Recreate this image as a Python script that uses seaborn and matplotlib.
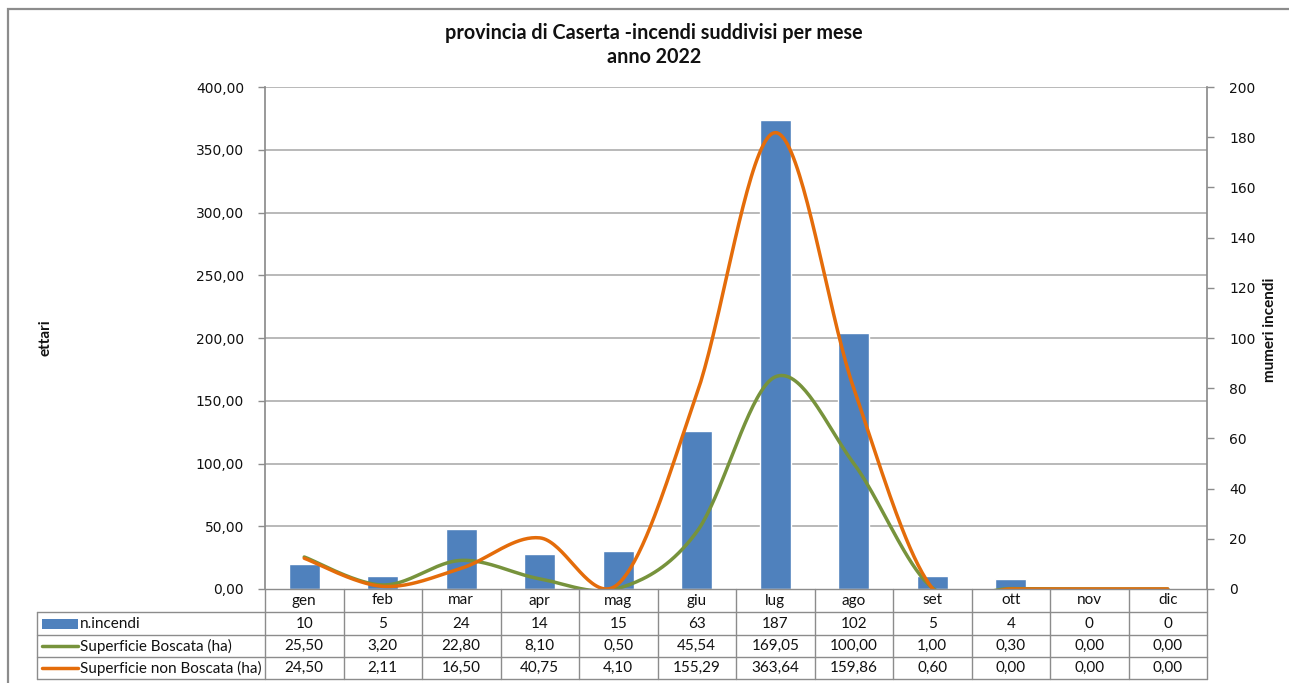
import numpy as np
import pandas as pd
import matplotlib
matplotlib.use("Agg")
import matplotlib.pyplot as plt
from matplotlib.patches import Rectangle
from matplotlib.ticker import FuncFormatter, MultipleLocator
import seaborn as sns

# --- data -------------------------------------------------------------
mesi = ["gen", "feb", "mar", "apr", "mag", "giu", "lug", "ago", "set", "ott", "nov", "dic"]
n_incendi = [10, 5, 24, 14, 15, 63, 187, 102, 5, 4, 0, 0]
sup_boscata = [25.50, 3.20, 22.80, 8.10, 0.50, 45.54, 169.05, 100.00, 1.00, 0.30, 0.00, 0.00]
sup_non_boscata = [24.50, 2.11, 16.50, 40.75, 4.10, 155.29, 363.64, 159.86, 0.60, 0.00, 0.00, 0.00]

titolo = "provincia di Caserta -incendi suddivisi per mese\nanno 2022"
etichetta_sx = "ettari"
etichetta_dx = "mumeri incendi"
nomi_serie = ["n.incendi", "Superficie Boscata (ha)", "Superficie non Boscata (ha)"]

BLU = "#4F81BD"
VERDE = "#77933C"
ARANCIO = "#E46C0A"
GRIGIO = "#8C8C8C"


def smooth(values, n=40):
    """Catmull-Rom style Bezier smoothing through category points."""
    p = np.column_stack([np.arange(len(values), dtype=float), np.asarray(values, float)])
    xs, ys = [], []
    for i in range(len(p) - 1):
        p0 = p[i - 1] if i > 0 else p[i]
        p1, p2 = p[i], p[i + 1]
        p3 = p[i + 2] if i + 2 < len(p) else p[i + 1]
        c1 = p1 + (p2 - p0) / 6.0
        c2 = p2 - (p3 - p1) / 6.0
        t = np.linspace(0, 1, n)[:, None]
        b = ((1 - t) ** 3) * p1 + 3 * ((1 - t) ** 2) * t * c1 + 3 * (1 - t) * t ** 2 * c2 + t ** 3 * p2
        xs.append(b[:, 0]); ys.append(b[:, 1])
    return np.concatenate(xs), np.concatenate(ys)


sns.set_theme(style="white")
plt.rcParams["font.family"] = ["DejaVu Sans"]

W, H = 1289, 683
fig = plt.figure(figsize=(W / 100, H / 100), dpi=100)

L, R, T, B = 265, 1207, 87, 589
ax2 = fig.add_axes([L / W, 1 - B / H, (R - L) / W, (B - T) / H])   # bars (right scale)
ax = ax2.twinx()                                                     # lines (left scale)
ax.yaxis.tick_left()
ax.yaxis.set_label_position("left")
ax2.yaxis.tick_right()
ax2.yaxis.set_label_position("right")
ax.set_zorder(ax2.get_zorder() + 1)
ax.patch.set_visible(False)

# bars
df = pd.DataFrame({"mese": mesi, "n": n_incendi})
sns.barplot(data=df, x="mese", y="n", ax=ax2, color=BLU, width=0.4,
            saturation=1, zorder=3)
ax2.set_ylim(0, 200)
ax2.set_xlim(-0.5, len(mesi) - 0.5)
ax2.yaxis.set_major_locator(MultipleLocator(20))

# gridlines of the left scale, drawn behind the bars
sx_ticks = np.arange(0, 401, 50)
for v in sx_ticks[1:]:
    ax2.axhline(v / 2, color="#A6A6A6", lw=1.1, zorder=1)

# smoothed lines
for vals, col in [(sup_boscata, VERDE), (sup_non_boscata, ARANCIO)]:
    xs, ys = smooth(vals)
    sns.lineplot(x=xs, y=ys, ax=ax, color=col, linewidth=2.5, sort=False,
                 estimator=None, zorder=4)
ax.set_ylim(0, 400)
ax.set_xlim(-0.5, len(mesi) - 0.5)
ax.set_yticks(sx_ticks)
ax.yaxis.set_major_formatter(FuncFormatter(lambda v, _: f"{v:.2f}".replace(".", ",")))

for a in (ax, ax2):
    a.set_xticks([])
    a.set_xlabel("")
    a.set_ylabel("")
    a.grid(False)
    for s in a.spines.values():
        s.set_visible(False)
    a.tick_params(axis="y", labelsize=10, length=5, width=1, direction="out",
                  color=GRIGIO, labelcolor="#111111")

ax.spines["left"].set_visible(True)
ax.spines["left"].set_color(GRIGIO)
ax2.spines["right"].set_visible(True)
ax2.spines["right"].set_color(GRIGIO)
ax.tick_params(axis="y", pad=10)
ax2.tick_params(axis="y", pad=11)

fig.text(45 / W, 1 - 338 / H, etichetta_sx, rotation=90, ha="center", va="center",
         fontsize=11, fontweight="bold", family="Lato", color="#111111")
fig.text(1270 / W, 1 - 330 / H, etichetta_dx, rotation=90, ha="center", va="center",
         fontsize=11, fontweight="bold", family="Lato", color="#111111")
fig.text(654 / W, 1 - 45 / H, titolo, ha="center", va="center",
         fontsize=14.2, fontweight="bold", family="Lato", color="#111111",
         linespacing=1.25)

# --- data table under the plot (pixel overlay) -------------------------
ov = fig.add_axes([0, 0, 1, 1], zorder=10)
ov.set_xlim(0, W); ov.set_ylim(H, 0); ov.axis("off")
ov.patch.set_visible(False)

# outer chart frame
ov.plot([8, 8, W], [H, 9, 9], color="#8C8C8C", lw=1.6, solid_joinstyle="miter")

n = len(mesi)
cw = (R - L) / n
rows = [589, 612, 635, 657, 679]
TL = 37
lc = "#8C8C8C"
ov.plot([L, R], [rows[0], rows[0]], color=lc, lw=1)
for y in rows[1:]:
    ov.plot([TL, R], [y, y], color=lc, lw=1)
ov.plot([TL, TL], [rows[1], rows[-1]], color=lc, lw=1)
for i in range(n + 1):
    x = L + i * cw
    ov.plot([x, x], [rows[0], rows[-1]], color=lc, lw=1)

tk = dict(ha="center", va="center", fontsize=11, family="Lato", color="#111111")
valori = [
    [str(v) for v in n_incendi],
    [f"{v:.2f}".replace(".", ",") for v in sup_boscata],
    [f"{v:.2f}".replace(".", ",") for v in sup_non_boscata],
]
for i, m in enumerate(mesi):
    xc = L + (i + 0.5) * cw
    ov.text(xc, (rows[0] + rows[1]) / 2, m, **tk)
    for r in range(3):
        ov.text(xc, (rows[r + 1] + rows[r + 2]) / 2, valori[r][i], **tk)

# legend keys inside the label column
yc = [(rows[r + 1] + rows[r + 2]) / 2 for r in range(3)]
ov.add_patch(Rectangle((42, yc[0] - 5), 36, 10, color=BLU, lw=0))
ov.plot([42, 78], [yc[1], yc[1]], color=VERDE, lw=2.5)
ov.plot([42, 78], [yc[2], yc[2]], color=ARANCIO, lw=2.5)
for r in range(3):
    ov.text(80, yc[r], nomi_serie[r], ha="left", va="center", fontsize=11,
            family="Lato", color="#111111")

fig.savefig("out.png", dpi=100, facecolor="white")
